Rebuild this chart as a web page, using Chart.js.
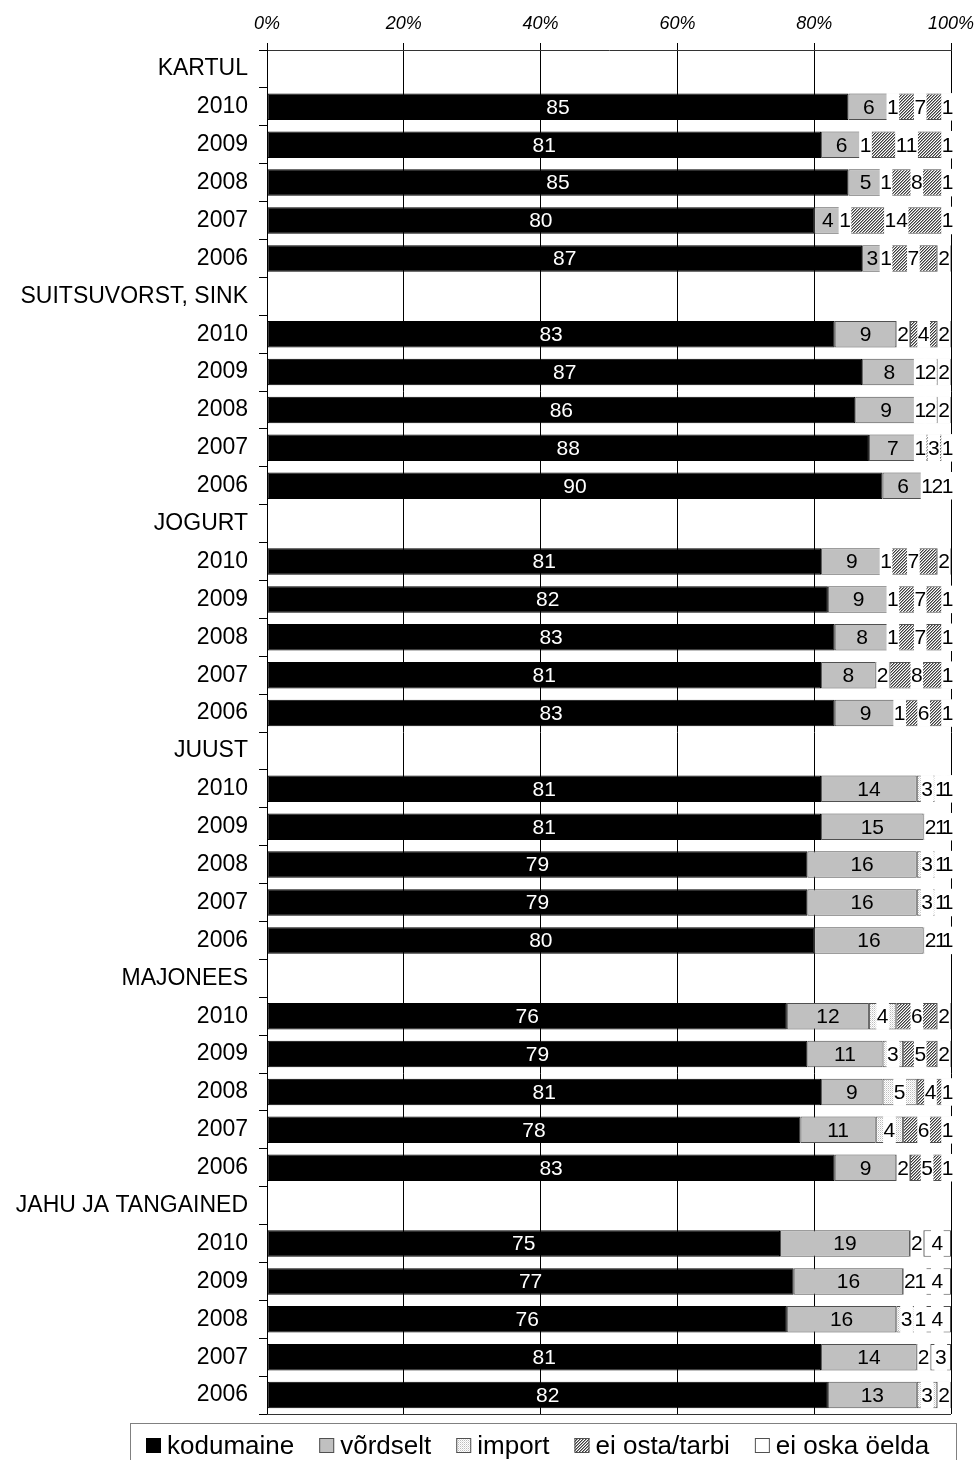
<!DOCTYPE html>
<html><head><meta charset="utf-8">
<script src="https://cdn.jsdelivr.net/npm/chart.js@4.4.0/dist/chart.umd.min.js"></script>
<style>html,body{margin:0;padding:0;background:#fff;} #wrap{width:977px;height:1460px;position:relative}</style>
</head><body><div id="wrap"><canvas id="c" width="977" height="1460"></canvas></div>
<script>
const groups = ['KARTUL','SUITSUVORST, SINK','JOGURT','JUUST','MAJONEES','JAHU JA TANGAINED'];
const years = ['2010','2009','2008','2007','2006'];
const seriesNames = ['kodumaine','võrdselt','import','ei osta/tarbi','ei oska öelda'];
const tickValues = [0,20,40,60,80,100];
// values in order: group by group, years 2010..2006
const kodumaine = [85,81,85,80,87, 83,87,86,88,90, 81,82,83,81,83, 81,81,79,79,80, 76,79,81,78,83, 75,77,76,81,82];
const vordselt  = [6,6,5,4,3,      9,8,9,7,6,      9,9,8,8,9,      14,15,16,16,16, 12,11,9,11,9,   19,16,16,14,13];
const importV   = [1,1,1,1,1,      2,1,1,1,1,      1,1,1,2,1,      3,2,3,3,2,      4,3,5,4,2,      2,2,3,2,3];
const eiOsta    = [7,11,8,14,7,    4,2,2,3,2,      7,7,7,8,6,      1,1,1,1,1,      6,5,4,6,5,      0,1,1,0,0];
const eiOska    = [1,1,1,1,2,      2,2,2,1,1,      2,1,1,1,1,      1,1,1,1,1,      2,2,1,1,1,      4,4,4,3,2];

const FONT = "'Liberation Sans', Arial, sans-serif";
Chart.defaults.font.family = FONT;
Chart.defaults.color = '#000';

const labels = [];
function rows(vals){
  const out = [];
  groups.forEach((g,gi)=>{
    out.push(null);
    years.forEach((y,yi)=>out.push(vals[gi*years.length+yi]));
  });
  return out;
}
groups.forEach(g=>{ labels.push(g); years.forEach(y=>labels.push(y)); });

function hatchPattern(){
  const c=document.createElement('canvas'); c.width=3; c.height=3;
  const g=c.getContext('2d'); g.fillStyle='#fff'; g.fillRect(0,0,3,3);
  g.fillStyle='#3c3c3c';
  for(let i=0;i<3;i++){ g.fillRect(i,2-i,1,1); }
  g.fillStyle='#9a9a9a';
  for(let i=0;i<3;i++){ g.fillRect((i+1)%3,2-i,1,1); }
  return g.createPattern(c,'repeat');
}
function dotPattern(){
  const c=document.createElement('canvas'); c.width=2; c.height=2;
  const g=c.getContext('2d'); g.fillStyle='#fff'; g.fillRect(0,0,2,2);
  g.fillStyle='#bdbdbd'; g.fillRect(0,0,1,1);
  g.fillStyle='#e2e2e2'; g.fillRect(1,1,1,1);
  return g.createPattern(c,'repeat');
}
const fills = ['#000000','#c0c0c0',dotPattern(),hatchPattern(),'#ffffff'];
const borders = ['#000000','#505050','#505050','#505050','#505050'];
const seriesVals = [kodumaine,vordselt,importV,eiOsta,eiOska];

const datasets = seriesNames.map((n,i)=>({
  label:n, data:rows(seriesVals[i]), backgroundColor:fills[i], borderColor:borders[i],
  borderWidth:1, borderSkipped:false, barPercentage:0.7, categoryPercentage:1.0
}));

const labelPlugin = {
  id:'vals',
  afterDatasetsDraw(chart){
    const ctx=chart.ctx; ctx.save();
    ctx.font = '21px '+FONT; ctx.textAlign='center'; ctx.textBaseline='middle';
    const items=[];
    chart.data.datasets.forEach((ds,di)=>{
      chart.getDatasetMeta(di).data.forEach((el,i)=>{
        const v=ds.data[i]; if(v==null||v===0) return;
        const p=el.getProps(['x','y','base','height'],true);
        items.push({di,v,cx:(p.x+p.base)/2,y:p.y,h:p.height});
      });
    });
    items.forEach(it=>{
      if(it.di>=2){
        const w=ctx.measureText(String(it.v)).width+1;
        ctx.fillStyle='#fff'; ctx.fillRect(it.cx-w/2, it.y-it.h/2-0.5, w, it.h+1);
      }
    });
    items.forEach(it=>{
      ctx.fillStyle = it.di===0?'#fff':'#000';
      ctx.fillText(String(it.v), it.cx, it.y+1);
    });
    ctx.restore();
  }
};

const framePlugin = {
  id:'frame',
  afterDraw(chart){
    const ctx=chart.ctx, a=chart.chartArea; ctx.save();
    ctx.strokeStyle='#333'; ctx.lineWidth=1;
    ctx.beginPath(); ctx.moveTo(a.left, Math.round(a.bottom)+0.5); ctx.lineTo(a.right, Math.round(a.bottom)+0.5); ctx.stroke();
    const size=26; ctx.font=size+'px '+FONT; ctx.textBaseline='middle'; ctx.textAlign='left';
    ctx.strokeStyle='#808080';
    ctx.strokeRect(130.5, 1423.5, 826, 60);
    let x=146; const cy=1445.5, box=15, gap1=6, gap2=25;
    chart.data.datasets.forEach((ds,i)=>{
      ctx.fillStyle=ds.backgroundColor; ctx.fillRect(x, cy-box/2, box, box);
      ctx.strokeStyle = i===0 ? '#000' : '#505050';
      ctx.strokeRect(x+0.5, cy-box/2+0.5, box-1, box-1);
      ctx.fillStyle='#000';
      ctx.fillText(ds.label, x+box+gap1, cy+1);
      x += box+gap1+ctx.measureText(ds.label).width+gap2;
    });
    ctx.restore();
  }
};

new Chart(document.getElementById('c'), {
  type:'bar',
  data:{labels, datasets},
  plugins:[labelPlugin, framePlugin],
  options:{
    indexAxis:'y', responsive:false, animation:false, devicePixelRatio:1,
    layout:{padding:{left:0,right:26,top:0,bottom:46}},
    plugins:{legend:{display:false}, tooltip:{enabled:false}},
    scales:{
      x:{
        position:'top', stacked:true, min:0, max:100,
        afterBuildTicks(s){ s.ticks = tickValues.map(v=>({value:v})); },
        afterFit(s){ s.height = 50; s.paddingLeft = 0; s.paddingRight = 0; },
        ticks:{ callback:v=>v+'%', font:{size:18, style:'italic'}, color:'#000', padding:8, maxRotation:0 },
        grid:{ color:'#000', lineWidth:1, tickLength:7, drawTicks:true },
        border:{ display:true, color:'#333', width:1 }
      },
      y:{
        stacked:true,
        afterFit(s){ s.width = 267; s.paddingTop = 0; s.paddingBottom = 0; },
        ticks:{ font:{size:23}, color:'#000', padding:11, autoSkip:false },
        grid:{ offset:true, drawOnChartArea:false, drawTicks:true, tickLength:8, color:'#000' },
        border:{ display:true, color:'#000', width:1 }
      }
    }
  }
});
</script></body></html>
